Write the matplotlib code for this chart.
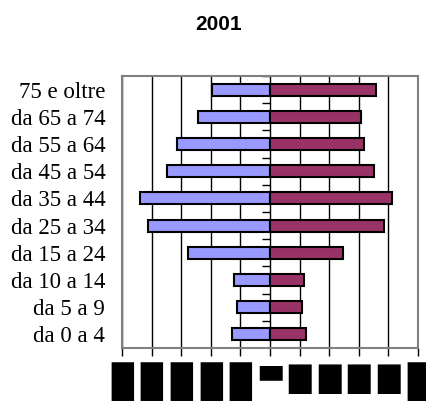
import matplotlib
matplotlib.use('Agg')
import matplotlib.pyplot as plt
import matplotlib.transforms as mtransforms
import numpy as np

# age classes, bottom to top
classi = ['da 0 a 4', 'da 5 a 9', 'da 10 a 14', 'da 15 a 24', 'da 25 a 34',
          'da 35 a 44', 'da 45 a 54', 'da 55 a 64', 'da 65 a 74', '75 e oltre']
maschi = [-1.27, -1.13, -1.21, -2.76, -4.11, -4.39, -3.49, -3.15, -2.42, -1.95]
femmine = [1.23, 1.09, 1.16, 2.46, 3.86, 4.13, 3.52, 3.19, 3.06, 3.58]
xticks = [-5, -4, -3, -2, -1, 0, 1, 2, 3, 4, 5]
# the x tick labels show up only as black blocks in the reference
xticklabels = ['\u2588'] * 5 + ['\u2580'] + ['\u2588'] * 5

fig = plt.figure(figsize=(4.27, 4.01), dpi=100)
ax = fig.add_axes([0.2857, 0.1322, 0.6932, 0.6783])

y = np.arange(len(classi))
ax.barh(y, maschi, height=0.44, color='#9999FF', edgecolor='black', linewidth=1.5, zorder=3)
ax.barh(y, femmine, height=0.44, color='#993366', edgecolor='black', linewidth=1.5, zorder=3)

ax.set_xlim(-5, 5)
ax.set_ylim(-0.5, len(classi) - 0.5)

ax.set_xticks(xticks)
ax.set_xticklabels(xticklabels, fontsize=26, family='DejaVu Sans Mono')
ax.tick_params(axis='x', direction='out', length=6, width=1, color='black', pad=4)
# zero and the positive labels are shorter blocks, a bit lower
down = mtransforms.ScaledTranslation(0, -3 / 100, fig.dpi_scale_trans)
for i, lab in enumerate(ax.get_xticklabels()):
    if 5 <= i <= 9:
        lab.set_fontfamily('DejaVu Sans')
        lab.set_fontsize(21)
        lab.set_transform(lab.get_transform() + down)
ax.grid(axis='x', color='black', linewidth=1, zorder=0)

ax.set_yticks(y)
ax.set_yticklabels(classi, family='Liberation Serif', fontsize=16.5)
ax.tick_params(axis='y', length=0, pad=12)

for s in ax.spines.values():
    s.set_color('#808080')
    s.set_linewidth(1.5)

# small ticks on the zero line between age classes
mid = ax.secondary_yaxis(0.5)
mid.set_yticks(np.arange(len(classi)) + 0.5)
mid.set_yticklabels([])
mid.tick_params(direction='in', length=6, width=1, color='black')
mid.spines['left'].set_visible(False)
mid.spines['right'].set_visible(False)

fig.text(0.513, 0.94, '2001', ha='center', va='center', fontsize=15,
         fontweight='bold', family='Liberation Sans')

fig.savefig('out.png', dpi=100)
